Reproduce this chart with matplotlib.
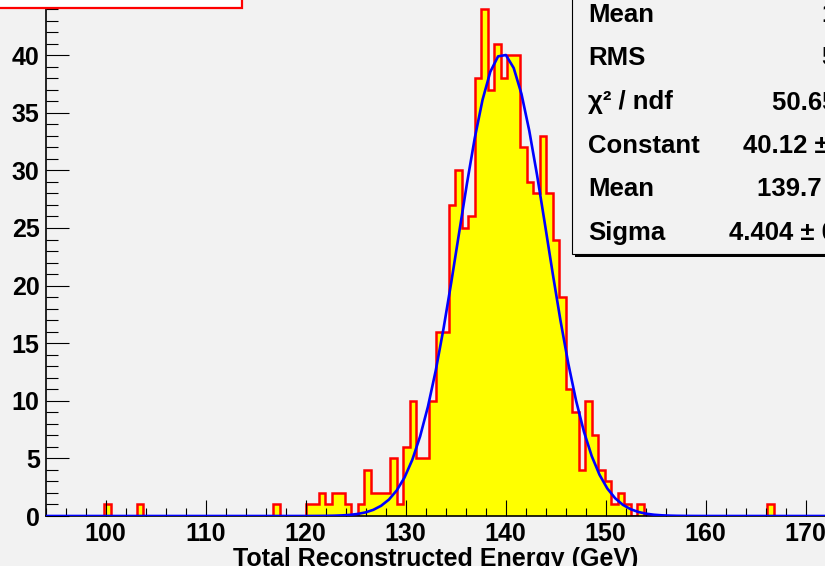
import numpy as np
import matplotlib
matplotlib.use("Agg")
import matplotlib.pyplot as plt
from matplotlib.patches import Rectangle
from matplotlib.ticker import MultipleLocator

# ---------------- data ----------------
x_min, x_max, n_bins = 94.0, 172.0, 120
counts = [
    0, 0, 0, 0, 0, 0, 0, 0, 0, 1,
    0, 0, 0, 0, 1, 0, 0, 0, 0, 0,
    0, 0, 0, 0, 0, 0, 0, 0, 0, 0,
    0, 0, 0, 0, 0, 1, 0, 0, 0, 0,
    1, 1, 2, 1, 2, 2, 1, 0, 1, 4,
    2, 2, 2, 5, 1, 6, 10, 5, 5, 10,
    16, 16, 27, 30, 25, 26, 38, 44, 37, 41,
    38, 40, 40, 32, 29, 28, 33, 28, 24, 19,
    11, 9, 4, 10, 7, 4, 3, 1, 2, 1,
    0, 1, 0, 0, 0, 0, 0, 0, 0, 0,
    0, 0, 0, 0, 0, 0, 0, 0, 0, 0,
    0, 1, 0, 0, 0, 0, 0, 0, 0, 0,
]
fit_constant, fit_mean, fit_sigma = 40.12, 139.7, 4.404
y_max = 46.2

stat_labels = ["Mean", "RMS", "\u03c7\u00b2 / ndf", "Constant", "Mean", "Sigma"]
stat_values = ["139.6", "5.312", "50.65 / 41", "40.12 \u00b1 1.72",
               "139.7 \u00b1 0.2", "4.404 \u00b1 0.164"]
x_title = "Total Reconstructed Energy (GeV)"

# ---------------- figure ----------------
W, H = 825, 566
BG = "#f2f2f2"
FONT = "Liberation Sans"
plt.rcParams["font.family"] = [FONT, "DejaVu Sans"]
plt.rcParams["font.weight"] = "bold"

fig = plt.figure(figsize=(W / 100, H / 100), dpi=100, facecolor=BG)

def fx(px):
    return px / W

def fy(py):
    return 1 - py / H

ax_left_px, ax_bottom_px = 45.7, 516.0
px_per_x = 10.0
px_per_y = 11.52
ax_w = (x_max - x_min) * px_per_x
ax_h = y_max * px_per_y
ax = fig.add_axes([fx(ax_left_px), (H - ax_bottom_px) / H, ax_w / W, ax_h / H])
ax.set_facecolor(BG)

edges = np.linspace(x_min, x_max, n_bins + 1)
ax.stairs(counts, edges, baseline=0, fill=True, color="#ffff00", zorder=1)
ax.stairs(counts, edges, baseline=0, fill=False, color="#ff0000",
          linewidth=1.8, zorder=1.5)

xf = np.linspace(x_min, x_max, 101)
yf = fit_constant * np.exp(-0.5 * ((xf - fit_mean) / fit_sigma) ** 2)
ax.plot(xf, yf, color="#0000ff", linewidth=1.9, zorder=2.6, clip_on=True)

ax.set_xlim(x_min, x_max)
ax.set_ylim(0, y_max)

ax.xaxis.set_major_locator(MultipleLocator(10))
ax.xaxis.set_minor_locator(MultipleLocator(2))
ax.yaxis.set_major_locator(MultipleLocator(5))
ax.yaxis.set_minor_locator(MultipleLocator(1))

ax.tick_params(axis="x", which="major", direction="in", length=11.5, width=0.8,
               pad=4.3, labelsize=18, color="black")
ax.tick_params(axis="x", which="minor", direction="in", length=5.8, width=0.8)
ax.tick_params(axis="y", which="major", direction="in", length=16.6, width=0.8,
               pad=4.3, labelsize=18)
ax.tick_params(axis="y", which="minor", direction="in", length=8.4, width=0.8)
for lab in ax.get_xticklabels() + ax.get_yticklabels():
    lab.set_fontweight("bold")

for s in ["top", "right"]:
    ax.spines[s].set_visible(False)
for s in ["left", "bottom"]:
    ax.spines[s].set_linewidth(1.2)

fig.text(fx(436), fy(566.3), x_title, ha="center", va="baseline",
         fontsize=18, fontweight="bold", family=FONT)

# title box (top-left)
fig.patches.append(Rectangle((fx(-20), fy(8.3)), fx(262.3), 0.2,
                             transform=fig.transFigure, facecolor="white",
                             edgecolor="#ff0000", linewidth=1.6, zorder=5))

# stats box with shadow
fig.patches.append(Rectangle((fx(575.3), fy(256.6)), fx(400), 0.6,
                             transform=fig.transFigure, facecolor="black",
                             edgecolor="none", zorder=5))
fig.patches.append(Rectangle((fx(572.3), fy(253.8)), fx(400), 0.6,
                             transform=fig.transFigure, facecolor=BG,
                             edgecolor="black", linewidth=0.8, zorder=5.1))

row0, row_step = 21.7, 43.66
for i, (lab, val) in enumerate(zip(stat_labels, stat_values)):
    yb = fy(row0 + i * row_step)
    fig.text(fx(588.3), yb, lab, ha="left", va="baseline", fontsize=18.5,
             fontweight="bold", zorder=6)
    fig.text(fx(886), yb, val, ha="right", va="baseline", fontsize=18.5,
             fontweight="bold", zorder=6)

fig.savefig("out.png", dpi=100, facecolor=BG)
